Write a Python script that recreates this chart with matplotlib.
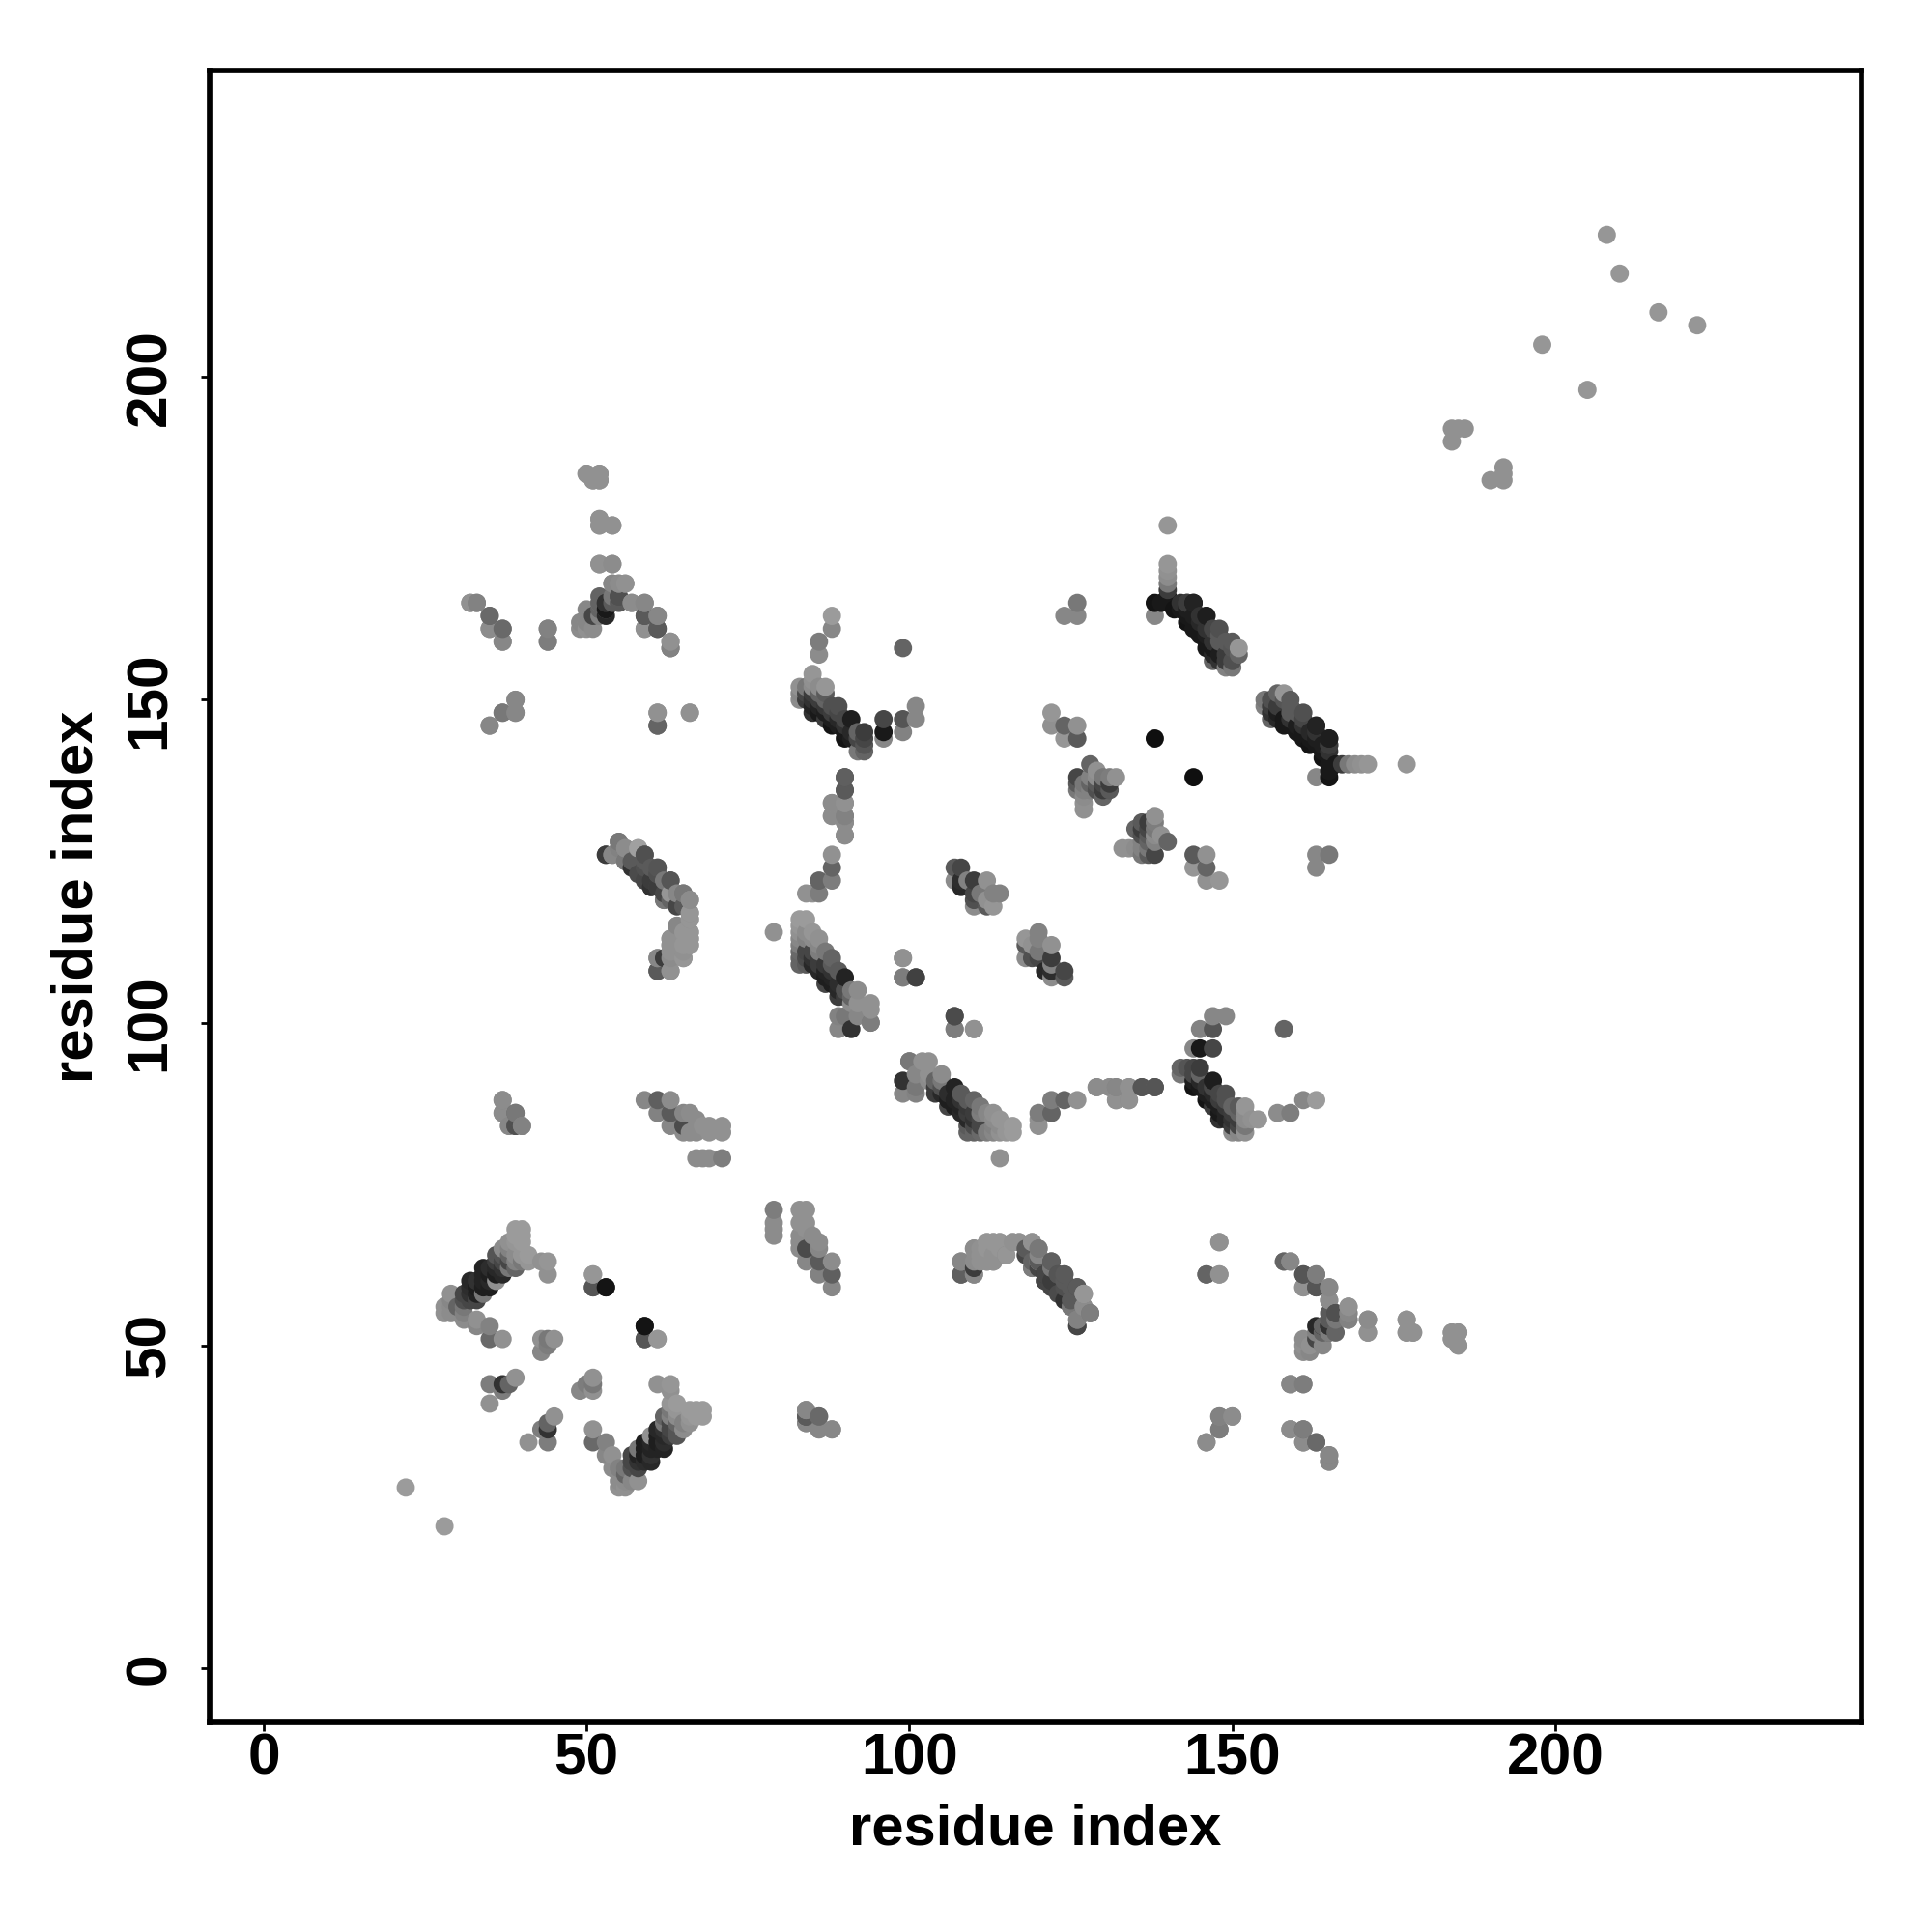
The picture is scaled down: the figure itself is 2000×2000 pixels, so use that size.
import numpy as np
import matplotlib
matplotlib.use('Agg')
import matplotlib.pyplot as plt

# contacts as (residue, residue, grey level), each one is drawn at both sides of the diagonal
far_points = [(22, 28, 145), (198, 205, 140), (208, 222, 140), (210, 216, 140),
              (184, 190, 135), (184, 192, 135), (185, 192, 135), (186, 192, 135)]

band_30_44 = [(28, 55, 135), (28, 56, 135), (29, 55, 130), (29, 56, 130), (29, 57, 125), (29, 58, 135),
              (30, 55, 130), (30, 56, 100), (31, 54, 130), (31, 55, 120), (31, 56, 110), (31, 57, 80), (31, 58, 70),
              (32, 57, 70), (32, 58, 50), (32, 59, 45), (32, 60, 40),
              (33, 53, 125), (33, 54, 135), (33, 57, 70), (33, 58, 35), (33, 59, 30), (33, 60, 50),
              (34, 58, 110), (34, 59, 30), (34, 60, 35), (34, 61, 35), (34, 62, 35),
              (35, 51, 105), (35, 53, 120), (35, 59, 30), (35, 60, 40), (35, 61, 30), (35, 62, 45),
              (36, 60, 135), (36, 61, 30), (36, 62, 40), (36, 63, 60), (36, 64, 85),
              (37, 51, 135), (37, 61, 40), (37, 62, 50), (37, 63, 70), (37, 64, 85), (37, 65, 130),
              (38, 62, 110), (38, 63, 70), (38, 64, 100), (38, 65, 120), (38, 66, 135),
              (39, 62, 100), (39, 63, 120), (39, 64, 130), (39, 66, 140), (39, 67, 145), (39, 68, 145),
              (40, 63, 110), (40, 64, 140), (40, 66, 145), (40, 67, 145), (40, 68, 145),
              (41, 63, 140), (41, 64, 145), (43, 63, 135), (44, 63, 140), (44, 61, 135)]

low_bits = [(51, 61, 140), (51, 59, 85), (53, 59, 20), (59, 53, 20), (59, 51, 85), (61, 51, 140),
            (43, 49, 125), (43, 51, 135), (44, 51, 110), (45, 51, 135), (44, 50, 115),
            (35, 41, 135), (35, 44, 115), (37, 43, 115), (37, 44, 50), (38, 44, 100), (39, 45, 135)]

strand_79_88 = [(59, 88, 125), (61, 88, 95), (63, 88, 130), (61, 86, 120), (63, 86, 90), (63, 84, 125),
                (65, 86, 125), (66, 86, 130), (67, 85, 130), (65, 83, 130), (65, 84, 75), (66, 83, 130),
                (67, 83, 130), (68, 84, 135), (69, 84, 135), (69, 83, 135), (71, 84, 135), (71, 83, 135),
                (67, 79, 130), (68, 79, 130), (69, 79, 130), (71, 79, 115)]

chain_37_40 = [(37, 88, 125), (37, 86, 125), (39, 86, 105), (38, 84, 125), (39, 84, 90), (40, 84, 125),
               (84, 40, 120), (84, 38, 125), (84, 39, 80), (86, 39, 110), (86, 37, 130), (88, 37, 130)]

curve_53_66 = [(53, 126, 70), (54, 126, 120), (55, 128, 115), (55, 127, 120), (56, 127, 130), (56, 125, 110),
               (57, 125, 90), (57, 124, 50), (58, 127, 140), (58, 123, 75), (59, 126, 90), (59, 124, 80),
               (59, 122, 70), (60, 124, 90), (60, 122, 60), (60, 121, 70), (61, 124, 90), (61, 123, 85),
               (61, 121, 70), (62, 122, 110), (62, 120, 70), (62, 119, 115), (63, 122, 95), (63, 120, 90),
               (63, 119, 100), (64, 120, 125), (64, 118, 70), (65, 120, 110), (66, 119, 135), (66, 117, 135),
               (64, 115, 140), (66, 116, 135), (66, 114, 140), (66, 113, 140), (66, 112, 140), (65, 114, 140),
               (65, 112, 140), (65, 111, 135), (63, 113, 135), (64, 113, 135), (64, 112, 135), (63, 112, 135),
               (64, 111, 135), (65, 110, 130), (63, 110, 130), (62, 110, 60), (61, 110, 125), (61, 108, 95),
               (63, 108, 125)]

curve_108_128 = [(118, 65, 90), (119, 62, 110), (120, 65, 110)]

band_83_94 = [(83, 116, 145), (83, 115, 140), (83, 114, 135), (83, 113, 125), (83, 112, 115), (83, 111, 105),
              (83, 110, 100), (83, 109, 100),
              (84, 116, 145), (84, 114, 130), (84, 113, 120), (84, 111, 70), (84, 110, 75), (84, 109, 90),
              (85, 114, 140), (85, 113, 130), (85, 111, 70), (85, 110, 50), (85, 109, 40),
              (86, 113, 135), (86, 112, 125), (86, 111, 115), (86, 110, 60), (86, 109, 60), (86, 108, 40),
              (87, 111, 110), (87, 109, 55), (87, 108, 35), (87, 107, 30), (87, 106, 70),
              (88, 110, 100), (88, 109, 90), (88, 108, 50), (88, 107, 35), (88, 106, 30),
              (89, 108, 90), (89, 106, 45), (89, 105, 40), (89, 104, 60), (89, 101, 120), (89, 99, 125),
              (90, 107, 35), (90, 105, 80), (90, 104, 60), (90, 101, 110),
              (91, 105, 110), (91, 104, 100), (91, 103, 130), (91, 99, 50),
              (92, 105, 130), (92, 103, 135), (92, 101, 125), (94, 103, 135), (94, 102, 135), (94, 100, 110)]

band_84_93 = [(83, 150, 130), (83, 151, 125), (83, 152, 135), (84, 150, 60), (84, 151, 70), (84, 152, 110),
              (85, 148, 50), (85, 149, 35), (85, 150, 50), (85, 151, 60), (85, 152, 130), (85, 153, 135), (85, 154, 140),
              (86, 148, 25), (86, 149, 35), (86, 150, 60), (86, 151, 100), (86, 152, 130),
              (87, 147, 60), (87, 148, 30), (87, 149, 55), (87, 150, 100), (87, 151, 90), (87, 152, 140),
              (88, 146, 20), (88, 147, 30), (88, 148, 60), (88, 149, 80),
              (89, 146, 30), (89, 147, 40), (89, 148, 70), (89, 149, 80),
              (90, 144, 20), (90, 145, 25), (90, 146, 50), (90, 147, 70),
              (91, 144, 30), (91, 145, 40), (91, 147, 30), (92, 142, 110), (92, 144, 70), (92, 145, 100),
              (93, 142, 100), (93, 143, 85), (93, 144, 70), (93, 145, 60),
              (96, 147, 70), (96, 145, 25), (96, 144, 125), (99, 147, 85), (99, 145, 120),
              (101, 149, 125), (101, 147, 125),
              (88, 163, 145), (88, 161, 125), (86, 159, 115), (86, 157, 130), (99, 158, 100)]

column_88_90 = [(90, 138, 85), (90, 136, 85), (88, 134, 135), (90, 134, 135), (88, 132, 135), (90, 132, 125),
                (90, 131, 130), (90, 129, 130), (88, 126, 135), (88, 124, 100), (86, 122, 100), (88, 122, 115),
                (84, 120, 135), (85, 120, 135), (86, 120, 115), (79, 114, 135),
                (129, 90, 130), (131, 90, 130), (132, 90, 120), (134, 90, 135), (136, 90, 90), (138, 90, 95),
                (132, 88, 130), (134, 88, 130)]

pieces_99_124 = [(99, 110, 135), (99, 107, 115), (101, 107, 75), (107, 101, 65), (107, 99, 115), (110, 99, 135),
                 (107, 124, 90), (108, 124, 70), (107, 122, 130), (108, 122, 45), (109, 122, 120), (110, 122, 60),
                 (112, 122, 135), (110, 120, 70), (111, 120, 110), (110, 118, 130), (112, 118, 90), (113, 120, 120),
                 (114, 120, 120), (112, 119, 135), (118, 113, 140), (119, 110, 80), (121, 108, 40)]

corner_138_151 = [(138, 144, 15), (138, 163, 125), (138, 165, 20), (139, 165, 25), (140, 165, 25), (140, 166, 25),
                  (140, 167, 60), (140, 168, 110), (140, 169, 130), (140, 170, 135), (140, 171, 140), (140, 177, 140),
                  (141, 164, 20), (142, 165, 50), (142, 164, 25), (143, 162, 20), (143, 163, 25), (143, 164, 30),
                  (143, 165, 60), (144, 161, 25), (144, 162, 25), (144, 163, 30), (144, 165, 30),
                  (145, 160, 25), (145, 161, 25), (145, 162, 40), (145, 163, 50),
                  (146, 158, 25), (146, 159, 25), (146, 160, 30), (146, 161, 50), (146, 163, 35),
                  (147, 156, 100), (147, 157, 40), (147, 158, 25), (147, 159, 50), (147, 161, 70),
                  (148, 156, 50), (148, 157, 30), (148, 159, 90), (148, 160, 90), (148, 161, 80),
                  (149, 155, 120), (149, 156, 60), (149, 157, 60), (149, 159, 90),
                  (150, 155, 110), (150, 156, 80), (150, 158, 85), (150, 159, 90), (151, 157, 100), (151, 158, 140),
                  (165, 143, 60), (165, 144, 35), (163, 146, 30)]

knot_122_132 = [(122, 148, 140), (122, 146, 135), (124, 146, 100), (126, 146, 135), (124, 144, 140), (126, 144, 90),
                (126, 165, 110), (124, 163, 125), (126, 163, 125),
                (128, 140, 100), (129, 139, 135), (126, 138, 70), (131, 138, 115), (132, 138, 135), (130, 138, 110),
                (129, 138, 130), (128, 138, 120), (126, 137, 90), (127, 137, 110), (129, 137, 90), (130, 137, 70),
                (131, 137, 60), (128, 137, 100), (126, 136, 110), (127, 136, 120), (128, 136, 120), (129, 136, 80),
                (130, 136, 60), (131, 136, 90), (130, 135, 100), (127, 135, 130), (127, 134, 135), (127, 133, 135)]

tail_148_185 = [(148, 66, 135), (146, 61, 100), (148, 61, 135), (158, 63, 120), (159, 63, 135), (161, 61, 90),
                (163, 61, 125), (161, 59, 135), (163, 59, 90), (165, 59, 125), (165, 57, 130), (168, 56, 135),
                (168, 55, 130), (168, 54, 125), (166, 55, 80), (165, 55, 90), (165, 54, 90), (171, 54, 130),
                (171, 52, 135), (177, 54, 135), (177, 52, 135), (178, 52, 135), (184, 52, 135), (185, 52, 135),
                (184, 51, 135), (185, 50, 135), (163, 53, 40), (164, 53, 25), (165, 53, 50), (166, 52, 100),
                (166, 54, 110), (164, 50, 125), (163, 51, 70), (161, 51, 130), (161, 49, 130), (162, 49, 125),
                (162, 50, 125), (165, 52, 100), (164, 52, 100), (159, 44, 115), (161, 44, 120), (148, 39, 125),
                (150, 39, 125), (148, 37, 110), (146, 35, 125), (159, 37, 125), (161, 37, 105), (161, 35, 130),
                (163, 35, 105), (165, 33, 120), (165, 32, 135)]

top_32_66 = [(50, 185, 135), (51, 184, 135), (52, 185, 135), (52, 184, 135), (52, 178, 135), (52, 177, 135),
             (54, 177, 135), (52, 171, 135), (54, 171, 130), (55, 168, 125), (54, 168, 120),
             (63, 159, 125), (63, 158, 100), (44, 161, 115), (44, 159, 125), (37, 161, 115), (37, 159, 130),
             (35, 161, 130), (35, 163, 105), (33, 165, 125), (32, 165, 125), (39, 150, 130), (39, 148, 120),
             (37, 148, 115), (35, 146, 130), (61, 148, 135), (61, 146, 100), (66, 148, 135), (50, 161, 135),
             (50, 162, 135), (53, 165, 50), (53, 164, 100), (55, 166, 80), (56, 168, 135), (57, 165, 130),
             (52, 165, 115), (52, 163, 120), (59, 165, 125), (59, 163, 85), (61, 163, 115), (59, 161, 135),
             (61, 161, 85)]

corner_99_126 = [(100, 94, 115), (108, 63, 135), (108, 61, 90), (110, 61, 125), (110, 65, 140), (111, 63, 135),
                 (112, 66, 140), (112, 63, 135), (113, 66, 140), (113, 63, 135), (114, 66, 140), (113, 64, 135),
                 (115, 64, 125), (116, 66, 140), (117, 66, 140), (119, 66, 130), (120, 63, 140), (121, 61, 60),
                 (121, 60, 50), (122, 63, 85), (123, 61, 80), (124, 61, 85), (125, 59, 90), (125, 56, 110),
                 (126, 59, 80), (127, 58, 150), (126, 53, 60), (126, 54, 125), (127, 56, 130), (128, 55, 110)]

lab_x = "residue index"
lab_y = "residue index"
ticks = [0, 50, 100, 150, 200]

plt.rcParams['font.family'] = ['Liberation Sans', 'DejaVu Sans']

all_contacts = (far_points + band_30_44 + low_bits + strand_79_88 + chain_37_40 + curve_53_66 + curve_108_128
                + band_83_94 + band_84_93 + column_88_90 + pieces_99_124 + corner_138_151 + knot_122_132
                + tail_148_185 + top_32_66 + corner_99_126)
a = np.array([c[0] for c in all_contacts])
b = np.array([c[1] for c in all_contacts])
g = np.array([c[2] for c in all_contacts])

# both sides of the diagonal, later residues painted over earlier ones
x = np.concatenate([a, b])
y = np.concatenate([b, a])
grey = np.concatenate([g, g])
order = np.lexsort((y, x))
# light dots came out a bit too dark, lift them
grey = np.where(grey >= 110, grey + 10, grey)
colors = [(v / 255, v / 255, v / 255) for v in grey[order]]

fig = plt.figure(figsize=(20, 20), dpi=100)
ax = fig.add_axes([0.1084, 1 - 1398 / 1568, 0.8553, 1341 / 1568])
ax.scatter(x[order], y[order], s=185, c=colors, linewidths=0, zorder=3)

ax.set_xlim(-8.4, 247.5)
ax.set_ylim(-8.4, 247.5)
ax.set_xticks(ticks)
ax.set_yticks(ticks)
ax.set_xticklabels([str(t) for t in ticks], fontsize=43.5, fontweight='bold')
ax.set_yticklabels([str(t) for t in ticks], fontsize=43.5, fontweight='bold', rotation=90, va='center')
ax.tick_params(axis='x', length=6.4, width=2, pad=1)
ax.tick_params(axis='y', length=6.4, width=2, pad=18)
ax.set_xlabel(lab_x, fontsize=43, fontweight='bold', labelpad=13)
ax.set_ylabel(lab_y, fontsize=43, fontweight='bold', labelpad=15)
for s in ax.spines.values():
    s.set_linewidth(4.1)

fig.savefig('out.png', dpi=100)
